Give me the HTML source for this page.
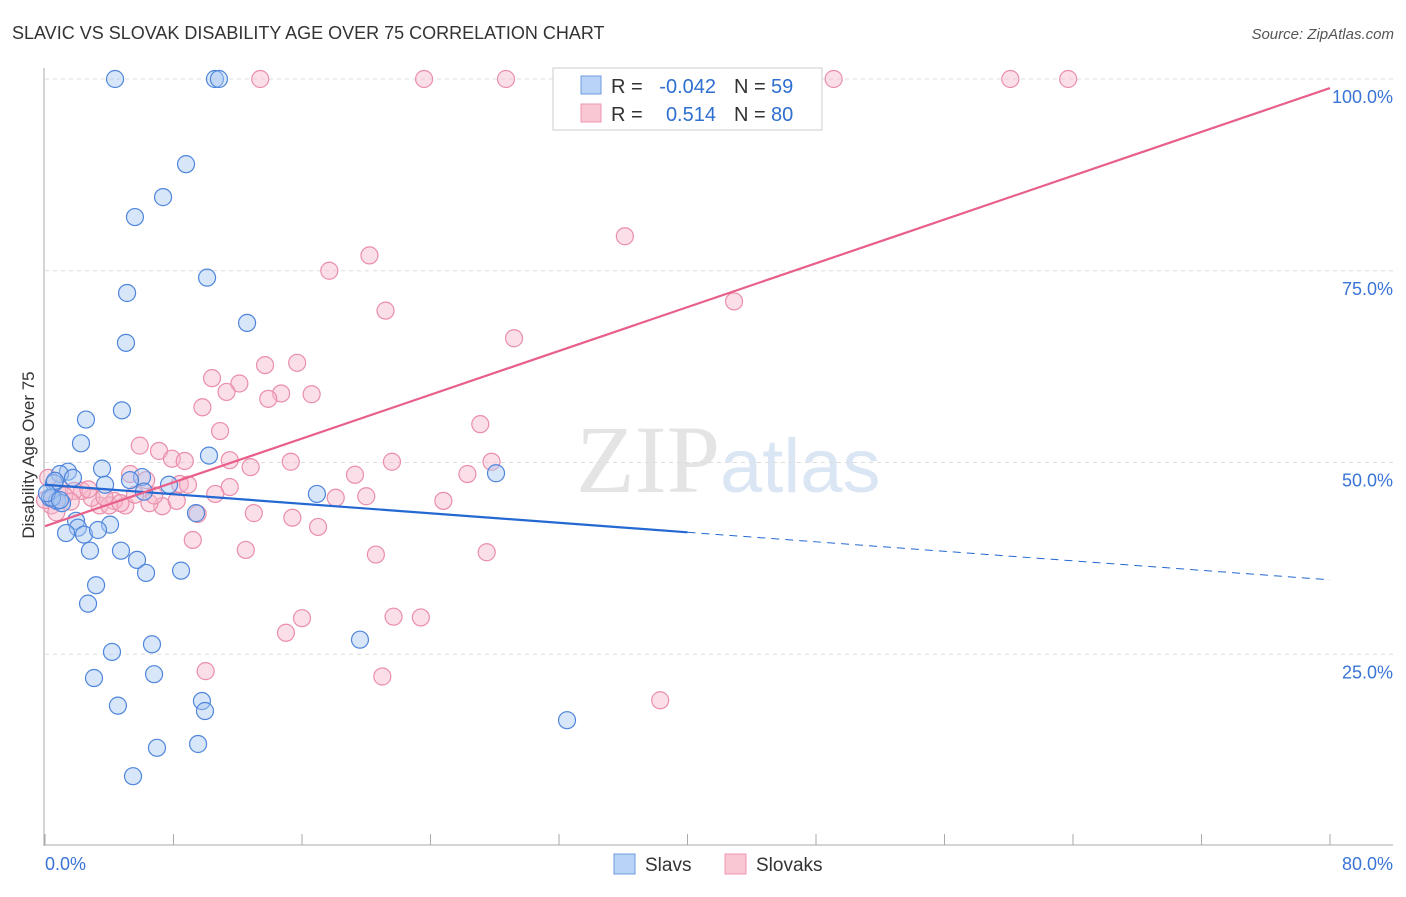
<!DOCTYPE html>
<html><head><meta charset="utf-8"><style>
body{margin:0;background:#fff;font-family:"Liberation Sans",sans-serif;}
</style></head><body>
<svg id="chart" width="1406" height="892" xmlns="http://www.w3.org/2000/svg">
<text x="12" y="39" font-size="18" fill="#333">SLAVIC VS SLOVAK DISABILITY AGE OVER 75 CORRELATION CHART</text>
<text x="1394" y="39" font-size="15" fill="#555" font-style="italic" text-anchor="end">Source: ZipAtlas.com</text>
<text x="720" y="492" font-size="96" fill="#e4e4e4" text-anchor="end" font-family="Liberation Serif">ZIP</text>
<text x="720" y="492" font-size="76" fill="#dbe6f5">atlas</text>
<g id="grid"></g>
<g id="axes"></g>
<g id="marks"></g>
<text transform="translate(34,455) rotate(-90)" font-size="17" fill="#333" text-anchor="middle">Disability Age Over 75</text>
<g font-size="20">
<rect x="553" y="68" width="269" height="62" fill="#fff" stroke="#ccc"/>
<rect x="581" y="76" width="20" height="18" fill="#b8d3f5" stroke="#6d9be0"/>
<rect x="581" y="104" width="20" height="18" fill="#f9c6d4" stroke="#ee96b0"/>
<text x="611" y="93" fill="#333">R =</text>
<text x="716" y="93" fill="#2f6fd0" text-anchor="end">-0.042</text>
<text x="734" y="93" fill="#333">N =</text>
<text x="771" y="93" fill="#2f6fd0">59</text>
<text x="611" y="121" fill="#333">R =</text>
<text x="716" y="121" fill="#2f6fd0" text-anchor="end">0.514</text>
<text x="734" y="121" fill="#333">N =</text>
<text x="771" y="121" fill="#2f6fd0">80</text>
</g>
<g>
<rect x="614" y="854" width="21" height="20" fill="#b8d3f5" stroke="#6d9be0"/>
<text x="645" y="871" font-size="19" fill="#333">Slavs</text>
<rect x="725" y="854" width="21" height="20" fill="#f9c6d4" stroke="#ee96b0"/>
<text x="756" y="871" font-size="19" fill="#333">Slovaks</text>
</g>
</svg>
<script>
const xTicks=[0,80];
const yTicks=[25,50,75,100];
const slavX=[4.36,10.58,10.83,8.78,7.35,5.60,10.09,5.11,12.58,5.04,4.79,2.55,2.24,10.21,3.55,1.43,0.93,0.56,1.74,3.74,6.04,7.72,6.16,0.31,0.75,1.06,9.40,1.93,4.05,2.05,1.31,2.43,3.30,16.93,28.08,4.73,2.80,5.73,6.29,8.47,3.18,2.68,6.66,19.61,4.17,6.79,3.05,4.54,9.77,9.96,32.5,6.97,9.53,5.48,0.62,0.44,0.12,0.93,5.29];
const slavY=[100,100,100,88.9,84.6,82.0,74.1,72.1,68.2,65.6,56.8,55.6,52.5,50.9,49.2,48.8,48.5,47.3,48.0,47.1,48.1,47.1,46.2,45.4,45.0,44.7,43.4,42.4,41.9,41.5,40.8,40.6,41.2,45.9,48.6,38.5,38.5,37.3,35.6,35.9,34.0,31.6,26.3,26.9,25.3,22.4,21.9,18.3,18.9,17.6,16.4,12.8,13.3,9.1,47.6,45.4,46.0,45.1,47.7];
const slovX=[13.4,23.6,28.7,49.1,60.1,63.7,36.1,20.2,17.7,42.9,21.2,29.2,15.7,13.7,10.4,12.1,11.3,14.7,13.9,16.6,9.8,27.1,10.9,5.9,7.1,7.9,8.7,12.8,15.3,21.6,19.3,26.3,27.8,5.3,6.3,8.4,8.9,11.5,10.6,18.1,20.0,24.8,7.3,6.5,5.0,4.3,3.4,2.9,2.3,0.9,0.4,0.7,1.8,9.5,13.0,15.4,17.0,9.2,12.5,20.6,27.5,16.0,15.0,21.7,23.4,10.0,21.0,38.3,0.2,1.2,4.0,4.7,2.7,5.6,1.6,3.7,8.2,6.8,0,11.5];
const slovY=[100,100,100,100,100,100,79.5,77.0,75.0,71.0,69.8,66.2,63.0,62.7,61.0,60.3,59.2,59.0,58.3,58.9,57.2,55.0,54.1,52.2,51.5,50.5,50.2,49.4,50.1,50.1,48.4,48.5,50.1,48.5,47.7,47.2,47.1,46.8,45.9,45.4,45.6,45.0,44.3,44.7,44.4,45.0,44.4,45.4,46.3,46.6,44.4,43.5,46.3,43.3,43.4,42.8,41.6,39.9,38.6,38.0,38.3,29.7,27.8,29.9,29.8,22.8,22.1,19.0,48.0,45.7,44.4,44.7,46.5,45.8,44.9,45.5,45.0,45.7,45.1,50.3];
const slavLine=[47.1,-0.155];
const slovLine=[41.7,0.714];
const NS="http://www.w3.org/2000/svg";
const X=v=>45+v/80*1285, Y=v=>846-v/100*767;
function mk(t,a,p){const e=document.createElementNS(NS,t);for(const k in a)e.setAttribute(k,a[k]);p.appendChild(e);return e;}
const grid=document.getElementById('grid'),axes=document.getElementById('axes'),marks=document.getElementById('marks');
yTicks.forEach(t=>{const l=mk('line',{x1:45,x2:1393,y1:Y(t),y2:Y(t),stroke:'#ddd','stroke-dasharray':'4,4'},grid);


const tx=mk('text',{x:1393,y:Y(t)+24,'font-size':18,fill:'#3a74d6','text-anchor':'end'},axes);tx.textContent=t.toFixed(1)+'%';

});
mk('line',{x1:44,x2:44,y1:68,y2:846,stroke:'#aaa'},axes);
mk('line',{x1:44,x2:1393,y1:845,y2:845,stroke:'#aaa'},axes);
for(let i=0;i<=10;i++){mk('line',{x1:X(i*8),x2:X(i*8),y1:834,y2:845,stroke:'#aaa'},axes);}
xTicks.forEach((t,i)=>{const tx=mk('text',{x:i?1393:45,y:870,'font-size':18,fill:'#3a74d6','text-anchor':i?'end':'start'},axes);tx.textContent=t.toFixed(1)+'%';

});
function dots(xs,ys,fill,stroke,name){xs.forEach((x,i)=>{const c=mk('circle',{cx:X(x),cy:Y(ys[i]),r:8.5,fill:fill,'fill-opacity':0.45,stroke:stroke,'stroke-width':1.2},marks);

});}
dots(slovX,slovY,'#f7b8cb','#ea8eaa','slovak-point');
dots(slavX,slavY,'#a9c8f2','#4f86dc','slav-point');
const ln=(a,b,x1,x2,st,da,nm)=>{const l=mk('line',{x1:X(x1),x2:X(x2),y1:Y(a+b*x1),y2:Y(a+b*x2),stroke:st,'stroke-width':da?1:2.2},marks);if(da)l.setAttribute('stroke-dasharray','8,6');

};
ln(slavLine[0],slavLine[1],0,40,'#2468d2',0,'slav-trend-line');
ln(slavLine[0],slavLine[1],40,80,'#2468d2',1,'slav-trend-extension');
ln(slovLine[0],slovLine[1],0,80,'#e8608a',0,'slovak-trend-line');
</script>
</body></html>
